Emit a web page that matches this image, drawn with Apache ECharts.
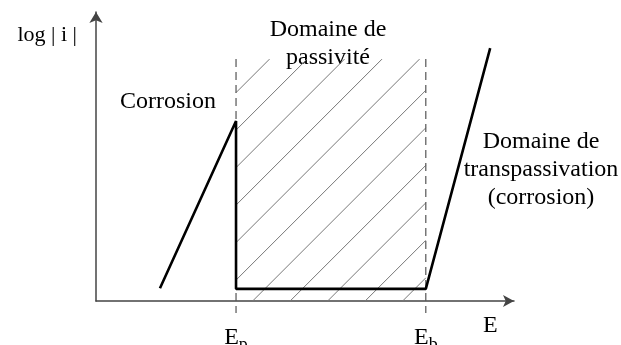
<!DOCTYPE html>
<html>
<head>
<meta charset="utf-8">
<script src="https://cdn.jsdelivr.net/npm/echarts@6/dist/echarts.min.js"></script>
<style>
  html, body { margin: 0; padding: 0; background: #fff; }
  #main { width: 621px; height: 345px; }
</style>
</head>
<body>
<div id="main"></div>
<script>
// potentiel (E) et log|i|, unités arbitraires 0..100
var Ep = 33.5;
var Eb = 78.9;
var passiveTop = 83.7;           // haut de la zone hachurée
var curveE = [15.3, 33.5, 33.5, 78.9, 94.3];
var curveLogI = [4.4, 62.3, 4.2, 4.2, 87.5];
var tickValues = [Ep, Eb];
var tickLabels = ['{e|E}{s|p}', '{e|E}{s|b}'];

var serif = '"Liberation Serif", "Times New Roman", serif';

var curve = [];
for (var i = 0; i < curveE.length; i++) {
    curve.push([curveE[i], curveLogI[i]]);
}

// hachures + traits pointillés de Ep et Eb
function renderPassive(params, api) {
    var lo = api.coord([api.value(0), 0]);
    var hi = api.coord([api.value(1), api.value(2)]);
    var x0 = lo[0], x1 = hi[0], yb = lo[1], yt = hi[1];
    var step = 37.5;
    var children = [];
    for (var c = x0 + yt + 33.5; c < x1 + yb; c += step) {
        var xa = Math.max(x0, c - yb);
        var xb = Math.min(x1, c - yt);
        if (xa >= xb) continue;
        children.push({
            type: 'line',
            shape: {x1: xa, y1: c - xa, x2: xb, y2: c - xb},
            style: {stroke: '#777', lineWidth: 1}
        });
    }
    [x0, x1].forEach(function (x) {
        children.push({
            type: 'line',
            shape: {x1: x, y1: yt, x2: x, y2: yb + 12},
            style: {stroke: '#555', lineWidth: 1.2, lineDash: [8, 5]}
        });
    });
    return {type: 'group', children: children};
}

var myChart = echarts.init(document.getElementById('main'));

function label(text, x, y) {
    return {
        type: 'text', x: x, y: y,
        style: {
            text: text,
            font: '24px ' + serif,
            fill: '#000',
            align: 'center',
            verticalAlign: 'middle',
            lineHeight: 28
        }
    };
}

var option = {
    animation: false,
    grid: {left: 96, right: 107, top: 12, bottom: 44, outerBoundsMode: 'none', containLabel: false},
    xAxis: {
        type: 'value',
        min: 0,
        max: 100,
        name: 'E',
        nameLocation: 'end',
        nameGap: -31,
        nameTextStyle: {color: '#000', fontFamily: serif, fontSize: 24, align: 'left', verticalAlign: 'top', padding: [13, 0, 0, 0]},
        axisLine: {
            show: true,
            symbol: ['none', 'arrow'],
            symbolSize: [9, 11],
            lineStyle: {color: '#444', width: 1.5}
        },
        axisTick: {show: false},
        splitLine: {show: false},
        axisLabel: {
            customValues: tickValues,
            margin: 21,
            formatter: function (v) {
                return tickLabels[tickValues.indexOf(v)] || '';
            },
            rich: {
                e: {color: '#000', fontFamily: serif, fontSize: 24},
                s: {color: '#000', fontFamily: serif, fontSize: 18, padding: [14, 0, 0, 0]}
            }
        }
    },
    yAxis: {
        type: 'value',
        min: 0,
        max: 100,
        name: 'log | i |',
        nameLocation: 'end',
        nameGap: -23,
        nameTextStyle: {color: '#000', fontFamily: serif, fontSize: 22, align: 'right', verticalAlign: 'middle', padding: [0, 19, 0, 0]},
        axisLine: {
            show: true,
            symbol: ['none', 'arrow'],
            symbolSize: [10, 11],
            lineStyle: {color: '#444', width: 1.5}
        },
        axisTick: {show: false},
        axisLabel: {show: false},
        splitLine: {show: false}
    },
    graphic: [
        label('Corrosion', 168, 102),
        label('Domaine de\npassivité', 328, 44),
        label('Domaine de\ntranspassivation\n(corrosion)', 541, 170)
    ],
    series: [
        {
            type: 'custom',
            clip: false,
            silent: true,
            encode: {x: [0, 1], y: 2},
            data: [[Ep, Eb, passiveTop]],
            renderItem: renderPassive,
            z: 1
        },
        {
            type: 'line',
            data: curve,
            symbol: 'none',
            silent: true,
            lineStyle: {color: '#000', width: 2.6},
            z: 3
        }
    ]
};

myChart.setOption(option);
</script>
</body>
</html>
